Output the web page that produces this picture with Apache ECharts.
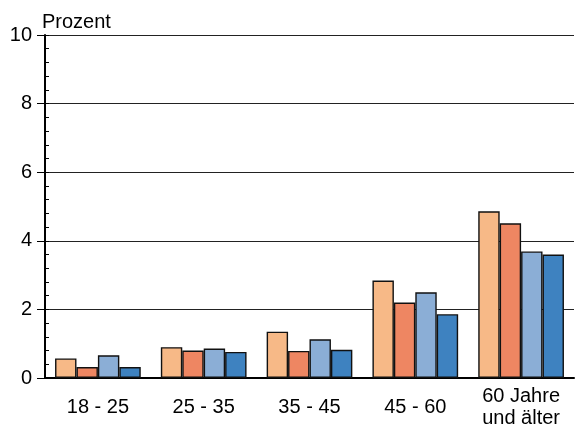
<!DOCTYPE html>
<html><head><meta charset="utf-8">
<script src="https://cdn.jsdelivr.net/npm/echarts@6/dist/echarts.min.js"></script>
<style>html,body{margin:0;padding:0;background:#fff}#c{width:575px;height:431px}</style>
</head><body><div id="c"></div>
<script>
const categories = ['18 - 25', '25 - 35', '35 - 45', '45 - 60', '60 Jahre\nund älter'];
const series1 = [0.57, 0.9, 1.35, 2.84, 4.86];
const series2 = [0.32, 0.8, 0.79, 2.2, 4.51];
const series3 = [0.66, 0.86, 1.13, 2.5, 3.69];
const series4 = [0.32, 0.76, 0.82, 1.86, 3.6];
const colors = ['#F7B987', '#EE8662', '#8BAED6', '#3E82C0'];
const yTicks = [0, 2, 4, 6, 8, 10];

const font = 'Liberation Sans, Arial, sans-serif';
const chart = echarts.init(document.getElementById('c'));
const mk = (d, i) => ({
  type: 'bar', data: d, barGap: '0%', barCategoryGap: '19%', yAxisIndex: 0,
  itemStyle: { color: colors[i], borderColor: '#111', borderWidth: 1.4 },
  silent: true
});
chart.setOption({
  animation: false,
  grid: { left: 45, right: 1, top: 35, bottom: 53 },
  xAxis: {
    type: 'category', data: categories,
    axisLine: { lineStyle: { color: '#000', width: 2 } },
    axisTick: { show: false },
    axisLabel: { color: '#000', fontSize: 20, fontFamily: font, margin: 29, lineHeight: 22, verticalAlign: 'middle' }
  },
  yAxis: [{
    type: 'value', min: yTicks[0], max: yTicks[yTicks.length - 1], interval: 2,
    name: 'Prozent', nameLocation: 'end', nameGap: 3,
    nameTextStyle: { color: '#000', fontSize: 20, fontFamily: font, align: 'left', padding: [0, 0, 0, -3] },
    axisLine: { show: true, lineStyle: { color: '#000', width: 2 } },
    axisTick: { show: true, length: 8, lineStyle: { color: '#000', width: 1 } },
    splitLine: { show: true, lineStyle: { color: '#222', width: 1.2 } },
    axisLabel: { color: '#000', fontSize: 20, fontFamily: font, margin: 13 }
  }, {
    type: 'value', min: yTicks[0], max: yTicks[yTicks.length - 1], interval: 0.4,
    position: 'left', offset: 0,
    axisLine: { show: false },
    axisTick: { show: true, inside: true, length: 4, lineStyle: { color: '#000', width: 1 } },
    splitLine: { show: false },
    axisLabel: { show: false }
  }],
  series: [mk(series1, 0), mk(series2, 1), mk(series3, 2), mk(series4, 3)]
});
</script></body></html>
